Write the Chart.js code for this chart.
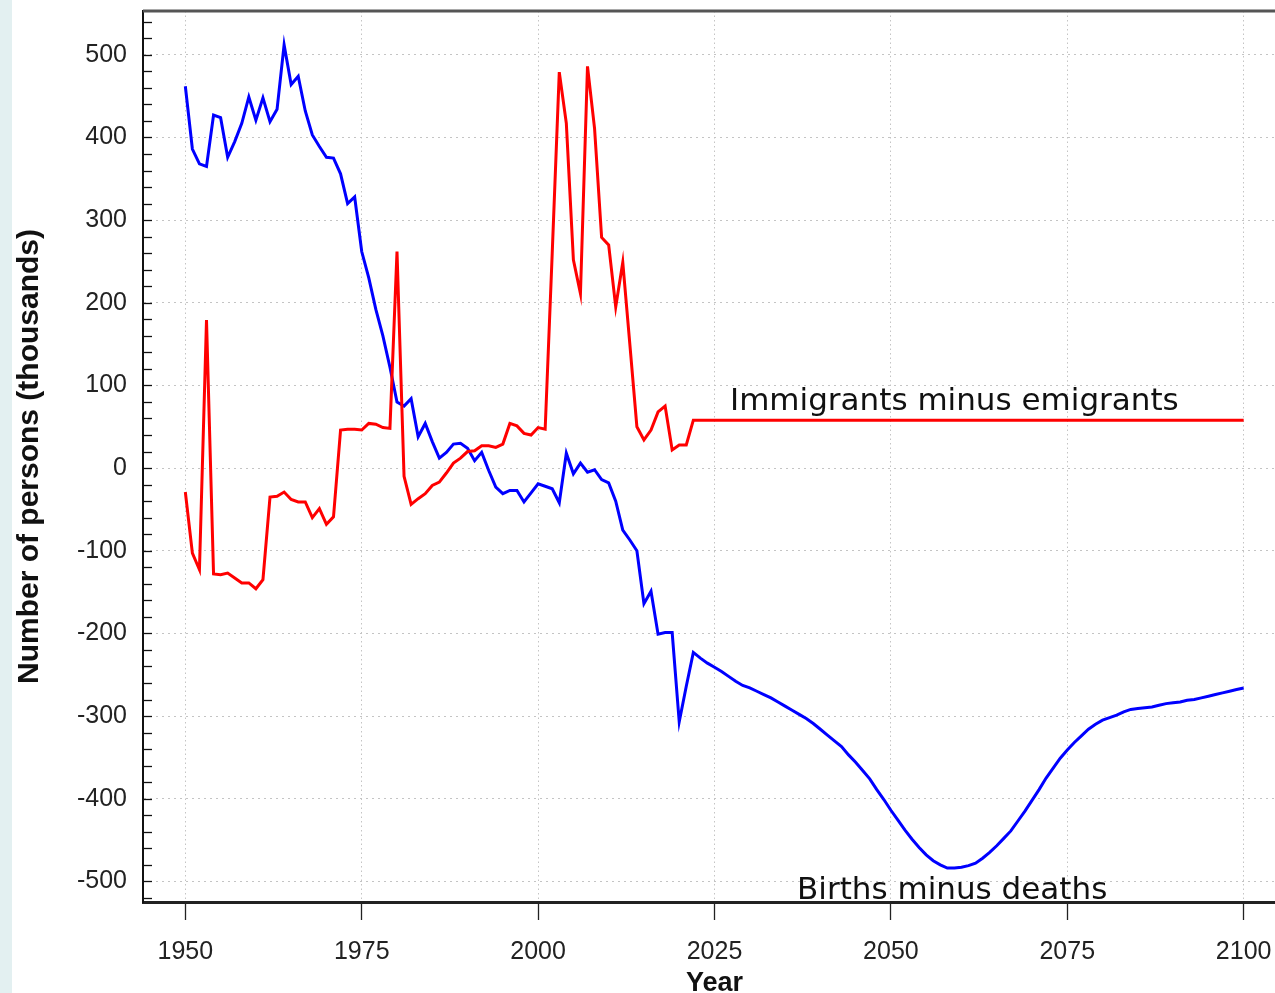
<!DOCTYPE html>
<html>
<head>
<meta charset="utf-8">
<script src="https://cdn.jsdelivr.net/npm/chart.js@4.4.1/dist/chart.umd.min.js"></script>
<style>
  html, body { margin: 0; padding: 0; overflow: hidden; background: #e3f0f1; }
  #wrap { position: absolute; left: 12px; top: 0; width: 1280px; height: 993px; background: #fff; }
</style>
</head>
<body>
<div id="wrap"><canvas id="chart" width="1280" height="993"></canvas></div>
<script>
// Births minus deaths, one value per year 1950..2100 (thousands)
const birthsStartYear = 1950;
const birthsMinusDeaths = [
    462, 386, 368, 365, 427, 424, 376, 395, 417, 449,   // 1950-1959
    421, 448, 419, 434, 512, 464, 474, 432, 403, 389,   // 1960-1969
    376, 375, 356, 320, 328, 262, 230, 192, 160, 122,   // 1970-1979
    80, 75, 84, 38, 54, 32, 12, 19, 29, 30,             // 1980-1989
    24, 9, 19, -3, -23, -31, -27, -27, -41, -30,        // 1990-1999
    -19, -22, -25, -42, 18, -7, 6, -5, -2, -14,         // 2000-2009
    -18, -40, -75, -87, -100, -164, -149, -201, -199, -199, // 2010-2019
    -307, -264, -223, -230, -236, -241, -246, -252, -258, -263, // 2020-2029
    -266, -270, -274, -278, -283, -288, -293, -298, -303, -309, // 2030-2039
    -316, -323, -330, -337, -347, -356, -366, -376, -389, -401, // 2040-2049
    -414, -426, -438, -449, -459, -468, -475, -480, -484, -484, // 2050-2059
    -483, -481, -478, -472, -465, -457, -448, -439, -427, -415, // 2060-2069
    -402, -389, -375, -363, -351, -341, -332, -324, -316, -310, // 2070-2079
    -305, -302, -299, -295, -292, -291, -290, -289, -287, -285, // 2080-2089
    -284, -283, -281, -280, -278, -276, -274, -272, -270, -268, // 2090-2099
    -266                                                // 2100
];

// Immigrants minus emigrants (thousands): observed years, then flat projection
const migrationYears = [
    1950, 1951, 1952, 1953, 1954, 1955, 1956, 1957, 1958, 1959,
    1960, 1961, 1962, 1963, 1964, 1965, 1966, 1967, 1968, 1969,
    1970, 1971, 1972, 1973, 1974, 1975, 1976, 1977, 1978, 1979,
    1980, 1981, 1982, 1983, 1984, 1985, 1986, 1987, 1988, 1989,
    1990, 1991, 1992, 1993, 1994, 1995, 1996, 1997, 1998, 1999,
    2000, 2001, 2002, 2003, 2004, 2005, 2006, 2007, 2008, 2009,
    2010, 2011, 2012, 2013, 2014, 2015, 2016, 2017, 2018, 2019,
    2020, 2021, 2022, 2100
];
const netMigration = [
    -29, -103, -123, 179, -128, -129, -127, -133, -139, -139,
    -146, -135, -35, -34, -29, -38, -41, -41, -60, -49,
    -68, -59, 46, 47, 47, 46, 54, 53, 49, 48,
    262, -10, -44, -37, -31, -21, -17, -6, 6, 12,
    20, 21, 27, 27, 25, 29, 54, 51, 42, 40,
    49, 47, 260, 479, 417, 252, 211, 486, 411, 279,
    270, 195, 249, 150, 50, 34, 46, 68, 75, 22,
    28, 28, 58, 58
];

// Axis ticks
const xTickYears = [1950, 1975, 2000, 2025, 2050, 2075, 2100];
const yTickValues = [-500, -400, -300, -200, -100, 0, 100, 200, 300, 400, 500];

const seriesLabels = ['Births minus deaths', 'Immigrants minus emigrants'];

// Build point lists
const birthsPoints = birthsMinusDeaths.map((v, i) => ({ x: birthsStartYear + i, y: v }));
const migrationPoints = netMigration.map((v, i) => ({ x: migrationYears[i], y: v }));

// Inner minor ticks on the y axis plus the top frame line
const framePlugin = {
    id: 'frame',
    afterDraw(chart) {
        const ctx = chart.ctx;
        const area = chart.chartArea;
        const y = chart.scales.y;
        ctx.save();
        ctx.strokeStyle = '#111';
        ctx.lineWidth = 1.3;
        for (let v = -520; v <= 540; v += 20) {
            const py = Math.round(y.getPixelForValue(v)) + 0.5;
            ctx.beginPath();
            ctx.moveTo(area.left, py);
            ctx.lineTo(area.left + 9, py);
            ctx.stroke();
        }
        ctx.strokeStyle = '#555';
        ctx.lineWidth = 3;
        ctx.beginPath();
        ctx.moveTo(area.left, area.top);
        ctx.lineTo(area.right, area.top);
        ctx.lineTo(area.right, area.bottom);
        ctx.stroke();
        ctx.restore();
    }
};

// Text labels next to the two curves
const curveLabelPlugin = {
    id: 'curveLabels',
    afterDatasetsDraw(chart) {
        const ctx = chart.ctx;
        const xs = chart.scales.x;
        const ys = chart.scales.y;
        ctx.save();
        ctx.font = '31px "DejaVu Sans"';
        ctx.fillStyle = '#111';
        ctx.textAlign = 'left';
        ctx.textBaseline = 'alphabetic';
        ctx.fillText(seriesLabels[1], xs.getPixelForValue(2027.2), ys.getPixelForValue(70));
        ctx.fillText(seriesLabels[0], xs.getPixelForValue(2036.7), ys.getPixelForValue(-521));
        ctx.restore();
    }
};

const ctx = document.getElementById('chart').getContext('2d');
new Chart(ctx, {
    type: 'line',
    data: {
        datasets: [
            {
                label: seriesLabels[1],
                data: migrationPoints,
                borderColor: '#ff0000',
                borderWidth: 3,
                pointRadius: 0,
                tension: 0,
                fill: false
            },
            {
                label: seriesLabels[0],
                data: birthsPoints,
                borderColor: '#0000ff',
                borderWidth: 3,
                pointRadius: 0,
                tension: 0,
                fill: false
            }
        ]
    },
    options: {
        responsive: false,
        animation: false,
        layout: { padding: { top: 11, right: 6, left: 0, bottom: 0 } },
        plugins: {
            legend: { display: false },
            tooltip: { enabled: false }
        },
        scales: {
            x: {
                type: 'linear',
                min: 1944,
                max: 2106,
                afterBuildTicks: (scale) => {
                    scale.ticks = xTickYears.map(v => ({ value: v }));
                },
                afterFit: (scale) => {
                    scale.height = 91;
                    scale.paddingLeft = 0;
                    scale.paddingRight = 0;
                },
                ticks: {
                    color: '#222',
                    font: { family: '"Liberation Sans", Arial', size: 25 },
                    padding: 17,
                    maxRotation: 0,
                    callback: (v) => String(v)
                },
                grid: {
                    color: '#c4c4c4',
                    lineWidth: 1,
                    drawTicks: true,
                    tickLength: 18,
                    tickColor: '#222',
                    tickWidth: 1.3,
                    tickBorderDash: []
                },
                border: { display: true, color: '#222', width: 3, dash: [1.5, 3] },
                title: {
                    display: true,
                    text: 'Year',
                    color: '#111',
                    font: { family: '"Liberation Sans", Arial', size: 27, weight: 'bold', lineHeight: 0.85 },
                    padding: { top: 0, bottom: -2 }
                }
            },
            y: {
                type: 'linear',
                min: -525,
                max: 553,
                afterBuildTicks: (scale) => {
                    scale.ticks = yTickValues.map(v => ({ value: v }));
                },
                afterFit: (scale) => {
                    scale.width = 131;
                    scale.paddingTop = 0;
                    scale.paddingBottom = 0;
                },
                ticks: {
                    color: '#222',
                    font: { family: '"Liberation Sans", Arial', size: 25 },
                    padding: 16,
                    callback: (v) => String(v)
                },
                grid: {
                    color: '#c4c4c4',
                    lineWidth: 1,
                    drawTicks: false
                },
                border: { display: true, color: '#111', width: 2, dash: [2, 4] },
                title: {
                    display: true,
                    text: 'Number of persons (thousands)',
                    color: '#111',
                    font: { family: '"Liberation Sans", Arial', size: 30, weight: 'bold', lineHeight: 1.2 },
                    padding: 0
                }
            }
        }
    },
    plugins: [framePlugin, curveLabelPlugin]
});
</script>
</body>
</html>
